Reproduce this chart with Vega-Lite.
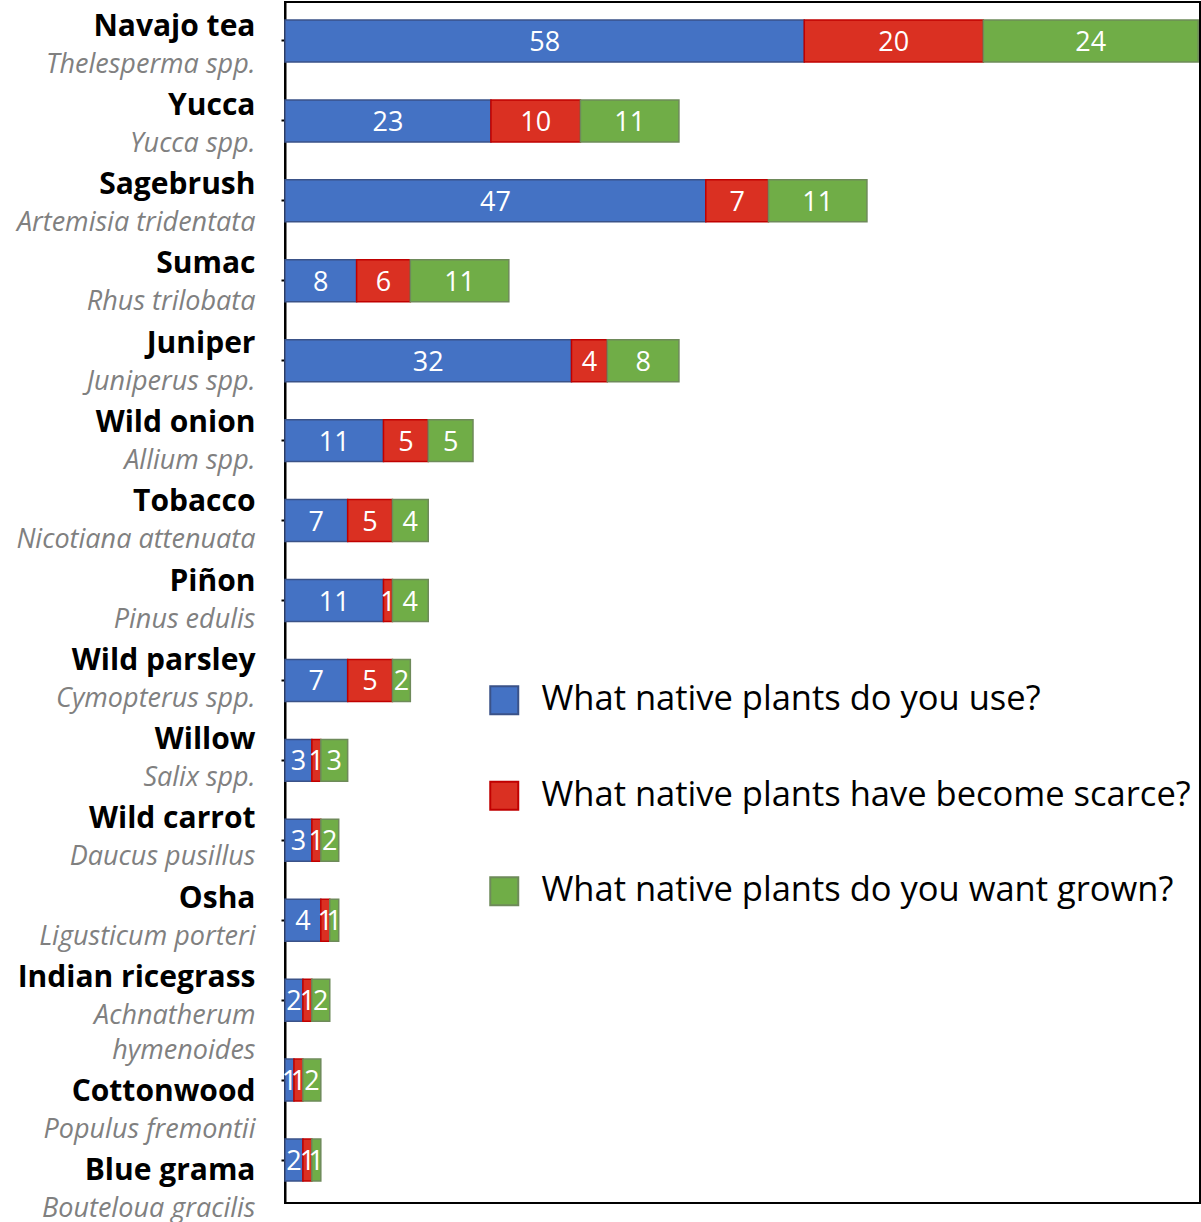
{
  "$schema": "https://vega.github.io/schema/vega-lite/v6.json",
  "width": 915,
  "height": 1201,
  "autosize": "none",
  "padding": {"left": 285, "top": 2, "right": 1, "bottom": 19},
  "background": "white",
  "config": {
    "view": {"stroke": "#000000", "strokeWidth": 2},
    "font": "Open Sans",
    "axis": {"grid": false}
  },
  "data": {
    "values": [
      {"plant": "Navajo tea", "species": "Thelesperma spp.", "use": 58, "scarce": 20, "grown": 24},
      {"plant": "Yucca", "species": "Yucca spp.", "use": 23, "scarce": 10, "grown": 11},
      {"plant": "Sagebrush", "species": "Artemisia tridentata", "use": 47, "scarce": 7, "grown": 11},
      {"plant": "Sumac", "species": "Rhus trilobata", "use": 8, "scarce": 6, "grown": 11},
      {"plant": "Juniper", "species": "Juniperus spp.", "use": 32, "scarce": 4, "grown": 8},
      {"plant": "Wild onion", "species": "Allium spp.", "use": 11, "scarce": 5, "grown": 5},
      {"plant": "Tobacco", "species": "Nicotiana attenuata", "use": 7, "scarce": 5, "grown": 4},
      {"plant": "Piñon", "species": "Pinus edulis", "use": 11, "scarce": 1, "grown": 4},
      {"plant": "Wild parsley", "species": "Cymopterus spp.", "use": 7, "scarce": 5, "grown": 2},
      {"plant": "Willow", "species": "Salix spp.", "use": 3, "scarce": 1, "grown": 3},
      {"plant": "Wild carrot", "species": "Daucus pusillus", "use": 3, "scarce": 1, "grown": 2},
      {"plant": "Osha", "species": "Ligusticum porteri", "use": 4, "scarce": 1, "grown": 1},
      {"plant": "Indian ricegrass", "species": "Achnatherum hymenoides", "use": 2, "scarce": 1, "grown": 2},
      {"plant": "Cottonwood", "species": "Populus fremontii", "use": 1, "scarce": 1, "grown": 2},
      {"plant": "Blue grama", "species": "Bouteloua gracilis", "use": 2, "scarce": 1, "grown": 1}
    ]
  },
  "transform": [
    {"fold": ["use", "scarce", "grown"], "as": ["series", "n"]},
    {"calculate": "datum.plant + '|' + datum.species", "as": "key"},
    {"calculate": "indexof(['use', 'scarce', 'grown'], datum.series)", "as": "ord"},
    {"stack": "n", "groupby": ["key"], "sort": [{"field": "ord", "order": "ascending"}], "as": ["x0", "x1"]},
    {"calculate": "(datum.x0 + datum.x1) / 2", "as": "mid"}
  ],
  "layer": [
    {
      "mark": {"type": "bar", "strokeWidth": 1.5},
      "encoding": {
        "y": {
          "field": "key",
          "type": "nominal",
          "sort": null,
          "scale": {"type": "band", "paddingInner": 0.475, "paddingOuter": 0.25, "align": 0.45},
          "axis": {
            "orient": "left",
            "title": null,
            "labels": false,
            "tickSize": 4,
            "tickWidth": 2,
            "tickColor": "#000000",
            "domainColor": "#000000",
            "domainWidth": 2
          }
        },
        "x": {"field": "x0", "type": "quantitative", "scale": {"domain": [0, 102.2], "nice": false}, "axis": null},
        "x2": {"field": "x1"},
        "fill": {
          "field": "series",
          "type": "nominal",
          "scale": {"domain": ["use", "scarce", "grown"], "range": ["#4472C4", "#DA3022", "#70AD47"]},
          "legend": {
            "title": null,
            "orient": "none",
            "legendX": 202,
            "legendY": 681,
            "padding": 0,
            "symbolType": "square",
            "symbolSize": 784,
            "symbolStrokeWidth": 2,
            "labelFont": "Open Sans",
            "labelFontSize": 34.5,
            "labelColor": "#000000",
            "labelOffset": 20,
            "labelLimit": 900,
            "rowPadding": 58.5,
            "labelExpr": "datum.value == 'use' ? 'What native plants do you use?' : datum.value == 'scarce' ? 'What native plants have become scarce?' : 'What native plants do you want grown?'"
          }
        },
        "stroke": {
          "field": "series",
          "type": "nominal",
          "scale": {"domain": ["use", "scarce", "grown"], "range": ["#3A5288", "#C00000", "#6E8A5A"]},
          "legend": {
            "title": null,
            "orient": "none",
            "legendX": 202,
            "legendY": 681,
            "padding": 0,
            "symbolType": "square",
            "symbolSize": 784,
            "symbolStrokeWidth": 2,
            "labelFont": "Open Sans",
            "labelFontSize": 34.5,
            "labelColor": "#000000",
            "labelOffset": 20,
            "labelLimit": 900,
            "rowPadding": 58.5,
            "labelExpr": "datum.value == 'use' ? 'What native plants do you use?' : datum.value == 'scarce' ? 'What native plants have become scarce?' : 'What native plants do you want grown?'"
          }
        }
      }
    },
    {
      "mark": {"type": "text", "color": "#FFFFFF", "font": "Open Sans", "fontSize": 27, "baseline": "middle", "align": "center", "dy": 2},
      "encoding": {
        "y": {
          "field": "key",
          "type": "nominal",
          "sort": null,
          "scale": {"type": "band", "paddingInner": 0.475, "paddingOuter": 0.25, "align": 0.45},
          "axis": null
        },
        "x": {"field": "mid", "type": "quantitative", "axis": null},
        "text": {"field": "n", "type": "quantitative"}
      }
    },
    {
      "mark": {"type": "point", "opacity": 0},
      "encoding": {
        "y": {
          "field": "key",
          "type": "nominal",
          "sort": null,
          "scale": {"type": "band", "paddingInner": 0, "paddingOuter": 0.0765},
          "axis": {
            "orient": "left",
            "title": null,
            "labelExpr": "indexof(['Cottonwood', 'Blue grama'], split(datum.value, '|')[0]) >= 0 ? ['', split(datum.value, '|')[0]] : split(datum.value, '|')[0]",
            "labelFont": "Open Sans",
            "labelFontSize": 30,
            "labelFontWeight": "bold",
            "labelColor": "#000000",
            "labelLimit": 400,
            "labelPadding": 30,
            "labelAlign": "right",
            "labelBaseline": "alphabetic",
            "labelOffset": -12,
            "labelLineHeight": 34.5,
            "ticks": false,
            "tickSize": 0,
            "domain": false
          }
        }
      }
    },
    {
      "mark": {"type": "point", "opacity": 0},
      "encoding": {
        "y": {
          "field": "key",
          "type": "nominal",
          "sort": null,
          "scale": {"type": "band", "paddingInner": 0, "paddingOuter": 0.0765},
          "axis": {
            "orient": "left",
            "title": null,
            "labelExpr": "length(split(datum.value, '|')[1]) > 21 ? split(split(datum.value, '|')[1], ' ') : indexof(['Cottonwood', 'Blue grama'], split(datum.value, '|')[0]) >= 0 ? ['', split(datum.value, '|')[1]] : split(datum.value, '|')[1]",
            "labelFont": "Open Sans",
            "labelFontSize": 27,
            "labelFontStyle": "italic",
            "labelColor": "#808080",
            "labelLimit": 400,
            "labelPadding": 30,
            "labelAlign": "right",
            "labelBaseline": "alphabetic",
            "labelOffset": 25,
            "labelLineHeight": 35,
            "ticks": false,
            "tickSize": 0,
            "domain": false
          }
        }
      }
    }
  ],
  "resolve": {"scale": {"y": "independent"}, "axis": {"y": "independent"}}
}
